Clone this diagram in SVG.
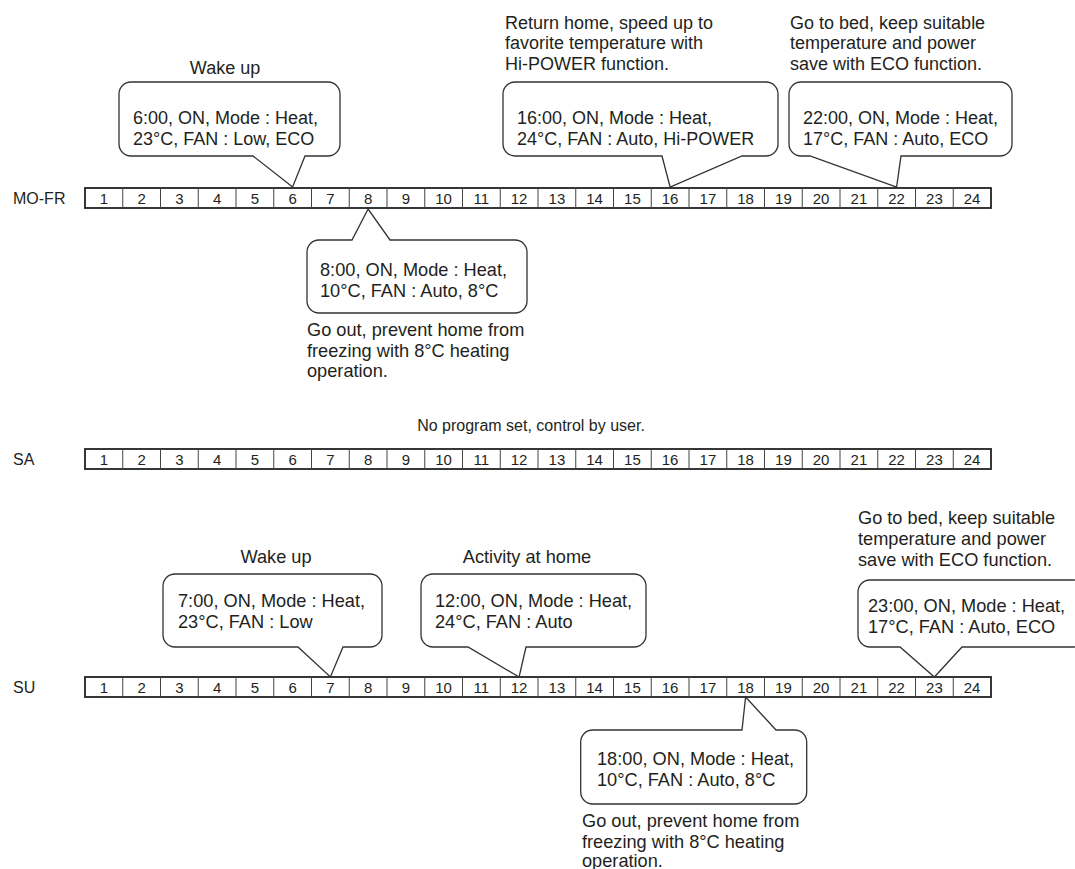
<svg xmlns="http://www.w3.org/2000/svg" xmlns:xlink="http://www.w3.org/1999/xlink" width="1075" height="869" viewBox="0 0 1075 869">
<style>
text{font-family:"Liberation Sans",Arial,Helvetica,sans-serif;fill:#231f20}
.num{font-size:15px;text-anchor:middle}
.lbl{font-size:16px}
.t1{font-size:18px}
.t2{font-size:18.2px}
.mid{text-anchor:middle}
.bub{fill:#fff;stroke:#333;stroke-width:1.3;stroke-linejoin:miter}
.frame{fill:#fff;stroke:#222;stroke-width:1.8}
.div{fill:none;stroke:#444;stroke-width:1}
</style>
<defs>
<g id="bar">
<rect class="frame" x="85" y="0" width="906" height="20"/>
<path class="div" d="M122.75,0v20M160.5,0v20M198.25,0v20M236,0v20M273.75,0v20M311.5,0v20M349.25,0v20M387,0v20M424.75,0v20M462.5,0v20M500.25,0v20M538,0v20M575.75,0v20M613.5,0v20M651.25,0v20M689,0v20M726.75,0v20M764.5,0v20M802.25,0v20M840,0v20M877.75,0v20M915.5,0v20M953.25,0v20"/>
<g class="num">
<text x="103.9" y="15.5">1</text><text x="141.6" y="15.5">2</text><text x="179.4" y="15.5">3</text><text x="217.1" y="15.5">4</text><text x="254.9" y="15.5">5</text><text x="292.6" y="15.5">6</text><text x="330.4" y="15.5">7</text><text x="368.1" y="15.5">8</text><text x="405.9" y="15.5">9</text><text x="443.6" y="15.5">10</text><text x="481.4" y="15.5">11</text><text x="519.1" y="15.5">12</text><text x="556.9" y="15.5">13</text><text x="594.6" y="15.5">14</text><text x="632.4" y="15.5">15</text><text x="670.1" y="15.5">16</text><text x="707.9" y="15.5">17</text><text x="745.6" y="15.5">18</text><text x="783.4" y="15.5">19</text><text x="821.1" y="15.5">20</text><text x="858.9" y="15.5">21</text><text x="896.6" y="15.5">22</text><text x="934.4" y="15.5">23</text><text x="972.1" y="15.5">24</text>
</g>
</g>
</defs>

<g id="row-MOFR">
<text class="lbl" x="13" y="204">MO-FR</text>
<use xlink:href="#bar" href="#bar" y="188"/>
</g>
<g id="row-SA">
<text class="lbl" x="13" y="465">SA</text>
<use xlink:href="#bar" href="#bar" y="449"/>
<text class="lbl mid" x="531" y="431">No program set, control by user.</text>
</g>
<g id="row-SU">
<text class="lbl" x="13" y="693">SU</text>
<use xlink:href="#bar" href="#bar" y="677"/>
</g>

<g id="callout-mofr-0600">
<text class="t1 mid" x="225" y="74">Wake up</text>
<path class="bub" d="M131,82H328A12,12 0 0 1 340,94V144A12,12 0 0 1 328,156H305L292.6,187L253,156H131A12,12 0 0 1 119,144V94A12,12 0 0 1 131,82Z"/>
<text class="t1" x="133" y="124">6:00, ON, Mode : Heat,</text>
<text class="t1" x="133" y="144.5">23°C, FAN : Low, ECO</text>
</g>

<g id="callout-mofr-1600">
<text class="t1" x="505" y="28.5">Return home, speed up to</text>
<text class="t1" x="505" y="49">favorite temperature with</text>
<text class="t1" x="505" y="69.5">Hi-POWER function.</text>
<path class="bub" d="M515,82H766A12,12 0 0 1 778,94V144A12,12 0 0 1 766,156H742L670.1,187L662,156H515A12,12 0 0 1 503,144V94A12,12 0 0 1 515,82Z"/>
<text class="t1" x="517" y="124">16:00, ON, Mode : Heat,</text>
<text class="t1" x="517" y="144.5">24°C, FAN : Auto, Hi-POWER</text>
</g>

<g id="callout-mofr-2200">
<text class="t1" x="790" y="28.5">Go to bed, keep suitable</text>
<text class="t1" x="790" y="49">temperature and power</text>
<text class="t1" x="790" y="69.5">save with ECO function.</text>
<path class="bub" d="M801,82H1000A12,12 0 0 1 1012,94V144A12,12 0 0 1 1000,156H901L896.6,187L810,156H801A12,12 0 0 1 789,144V94A12,12 0 0 1 801,82Z"/>
<text class="t1" x="803" y="124">22:00, ON, Mode : Heat,</text>
<text class="t1" x="803" y="144.5">17°C, FAN : Auto, ECO</text>
</g>

<g id="callout-mofr-0800">
<path class="bub" d="M319,240H352L368.1,209L390,240H515A12,12 0 0 1 527,252V301A12,12 0 0 1 515,313H319A12,12 0 0 1 307,301V252A12,12 0 0 1 319,240Z"/>
<text class="t2" x="320" y="276">8:00, ON, Mode : Heat,</text>
<text class="t2" x="320" y="297">10°C, FAN : Auto, 8°C</text>
<text class="t2" x="307" y="336">Go out, prevent home from</text>
<text class="t2" x="307" y="356.5">freezing with 8°C heating</text>
<text class="t2" x="307" y="377">operation.</text>
</g>

<g id="callout-su-0700">
<text class="t2 mid" x="276" y="563">Wake up</text>
<path class="bub" d="M175,574H370A12,12 0 0 1 382,586V635A12,12 0 0 1 370,647H343L330.4,677L298,647H175A12,12 0 0 1 163,635V586A12,12 0 0 1 175,574Z"/>
<text class="t2" x="178" y="607">7:00, ON, Mode : Heat,</text>
<text class="t2" x="178" y="628">23°C, FAN : Low</text>
</g>

<g id="callout-su-1200">
<text class="t2 mid" x="527" y="563">Activity at home</text>
<path class="bub" d="M433,574H634A12,12 0 0 1 646,586V635A12,12 0 0 1 634,647H526L519.1,677L468,647H433A12,12 0 0 1 421,635V586A12,12 0 0 1 433,574Z"/>
<text class="t2" x="435" y="607">12:00, ON, Mode : Heat,</text>
<text class="t2" x="435" y="628">24°C, FAN : Auto</text>
</g>

<g id="callout-su-2300">
<text class="t2" x="858" y="524">Go to bed, keep suitable</text>
<text class="t2" x="858" y="545">temperature and power</text>
<text class="t2" x="858" y="566">save with ECO function.</text>
<path class="bub" d="M870,580H1074A12,12 0 0 1 1086,592V635A12,12 0 0 1 1074,647H962L934.4,677L900,647H870A12,12 0 0 1 858,635V592A12,12 0 0 1 870,580Z"/>
<text class="t2" x="868" y="612">23:00, ON, Mode : Heat,</text>
<text class="t2" x="868" y="633">17°C, FAN : Auto, ECO</text>
</g>

<g id="callout-su-1800">
<path class="bub" d="M592.7,730H742L745.6,697L776,730H794.7A12,12 0 0 1 806.7,742V792A12,12 0 0 1 794.7,804H592.7A12,12 0 0 1 580.7,792V742A12,12 0 0 1 592.7,730Z"/>
<text class="t2" x="597" y="765">18:00, ON, Mode : Heat,</text>
<text class="t2" x="597" y="786">10°C, FAN : Auto, 8°C</text>
<text class="t2" x="582" y="827">Go out, prevent home from</text>
<text class="t2" x="582" y="848">freezing with 8°C heating</text>
<text class="t2" x="582" y="866.5">operation.</text>
</g>
</svg>
